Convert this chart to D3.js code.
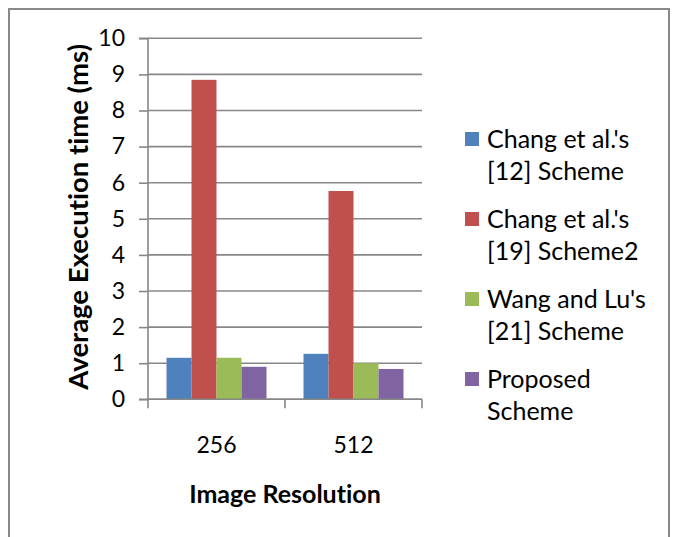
<!DOCTYPE html>
<html>
<head>
<meta charset="utf-8">
<script src="https://cdn.jsdelivr.net/npm/d3@7"></script>
<style>
  html, body { margin: 0; padding: 0; background: #fff; }
  svg { display: block; }
  text { font-family: Lato, "Open Sans", sans-serif; fill: #000; font-variant-ligatures: none; font-feature-settings: "liga" 0, "clig" 0; }
</style>
</head>
<body>
<svg id="chart" width="673" height="537"></svg>
<script>
const categories = ["256", "512"];
const seriesNames = [
  ["Chang et al.'s", "[12] Scheme"],
  ["Chang et al.'s", "[19] Scheme2"],
  ["Wang and Lu's", "[21] Scheme"],
  ["Proposed", "Scheme"]
];
const seriesColors = ["#4F81BD", "#C0504D", "#9BBB59", "#8064A2"];
const changScheme = [1.15, 1.26];
const changScheme2 = [8.85, 5.77];
const wangLuScheme = [1.15, 1.0];
const proposedScheme = [0.9, 0.84];
const seriesValues = [changScheme, changScheme2, wangLuScheme, proposedScheme];
const yTicks = [0, 1, 2, 3, 4, 5, 6, 7, 8, 9, 10];
const xTitle = "Image Resolution";
const yTitle = "Average Execution time (ms)";

const svg = d3.select("#chart");
const gridColor = "#878787";

// outer border
svg.append("rect")
  .attr("x", 9).attr("y", 9).attr("width", 660).attr("height", 540)
  .attr("fill", "none").attr("stroke", "#898989").attr("stroke-width", 2);

const plot = { left: 148, right: 422, top: 38.3, bottom: 399.3 };

const x = d3.scaleBand().domain(categories).range([plot.left, plot.right]).padding(0);
const xs = d3.scaleBand().domain(d3.range(seriesValues.length))
  .range([0, x.bandwidth()]).paddingInner(0).paddingOuter(0.74);
const y = d3.scaleLinear().domain([0, 10]).range([plot.bottom, plot.top]);

// gridlines
svg.append("g").selectAll("line").data(yTicks).join("line")
  .attr("x1", plot.left).attr("x2", plot.right)
  .attr("y1", d => y(d)).attr("y2", d => y(d))
  .attr("stroke", gridColor).attr("stroke-width", 1.6);

// bars
const groups = svg.append("g").selectAll("g").data(categories).join("g")
  .attr("transform", c => `translate(${x(c)},0)`);
groups.selectAll("rect").data((c, ci) => seriesValues.map((vals, si) => ({ si, v: vals[ci] })))
  .join("rect")
  .attr("x", d => xs(d.si))
  .attr("width", xs.bandwidth())
  .attr("y", d => y(d.v))
  .attr("height", d => y(0) - y(d.v))
  .attr("fill", d => seriesColors[d.si]);

// y axis
const yAxis = d3.axisLeft(y).tickValues(yTicks).tickSize(9).tickPadding(14).tickFormat(d3.format("d"));
const gy = svg.append("g").attr("transform", `translate(${plot.left},0)`).call(yAxis);
gy.select(".domain").attr("stroke", gridColor).attr("stroke-width", 1.6).attr("d", `M-9,${plot.top}H0V${plot.bottom}H-9`);
gy.selectAll(".tick line").attr("stroke", gridColor).attr("stroke-width", 1.6);
gy.selectAll(".tick text").style("font-size", "23px").style("font-family", "Lato, sans-serif").attr("fill", "#000");

// x axis
const xAxis = d3.axisBottom(x).tickSize(0).tickPadding(37);
const gx = svg.append("g").attr("transform", `translate(0,${plot.bottom})`).call(xAxis);
gx.select(".domain").attr("stroke", gridColor).attr("stroke-width", 1.6).attr("d", `M${plot.left},0H${plot.right}`);
gx.selectAll(".tick text").style("font-size", "23px").style("font-family", "Lato, sans-serif").attr("fill", "#000");
// category separators
svg.append("g").selectAll("line").data([plot.left, ...categories.map(c => x(c) + x.bandwidth())]).join("line")
  .attr("x1", d => d).attr("x2", d => d)
  .attr("y1", plot.bottom).attr("y2", plot.bottom + 9)
  .attr("stroke", gridColor).attr("stroke-width", 1.6);

// axis titles
svg.append("text").attr("x", (plot.left + plot.right) / 2).attr("y", 503)
  .attr("text-anchor", "middle").style("font-size", "25px").style("font-weight", "bold").text(xTitle);
svg.append("text").attr("transform", `translate(88,${(plot.top + plot.bottom) / 2 - 2}) rotate(-90)`)
  .attr("text-anchor", "middle").style("font-size", "27.5px").style("font-weight", "bold").text(yTitle);

// legend
const legend = svg.append("g").selectAll("g").data(seriesNames).join("g")
  .attr("transform", (d, i) => `translate(465,${132 + i * 80})`);
legend.append("rect").attr("width", 14).attr("height", 14).attr("fill", (d, i) => seriesColors[i]);
legend.append("text").attr("x", 22).attr("y", 16).style("font-size", "25px").text(d => d[0]);
legend.append("text").attr("x", 22).attr("y", 48).style("font-size", "25px").text(d => d[1]);
</script>
</body>
</html>
